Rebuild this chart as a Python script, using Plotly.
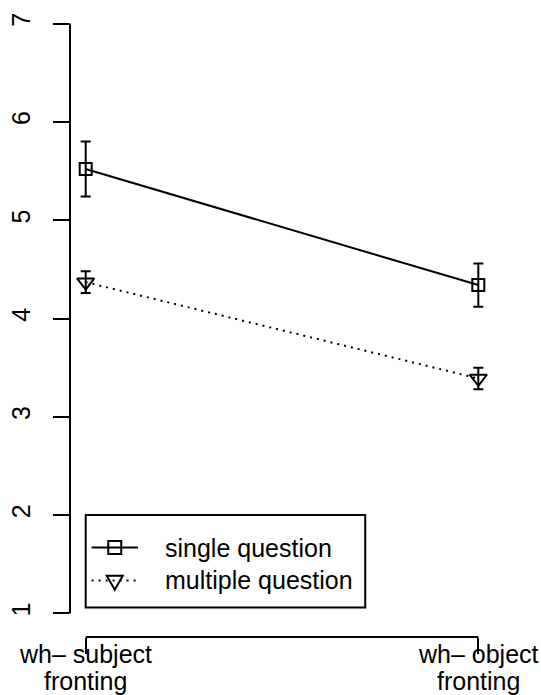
import plotly.graph_objects as go

# ---- data ----
x_pos = [1, 2]
cat_line1 = ["wh– subject", "wh– object"]
cat_line2 = ["fronting", "fronting"]
single_mean = [5.52, 4.34]
single_se = [0.28, 0.22]
multiple_mean = [4.37, 3.39]
multiple_se = [0.11, 0.11]
y_ticks = [1, 2, 3, 4, 5, 6, 7]
y_ticklabels = ["1", "2", "3", "4", "5", "6", "7"]
series_names = ["single question", "multiple question"]

FONT = "Liberation Sans, Arial, Helvetica, sans-serif"
W, H = 541, 695
ML, MR, MT, MB = 70, 47, 0, 58
XR = [0.96, 2.04]
YR = [0.76, 7.24]
pxx = (W - ML - MR) / (XR[1] - XR[0])
pxy = (H - MT - MB) / (YR[1] - YR[0])

fig = go.Figure()
fig.add_trace(go.Scatter(
    x=x_pos, y=single_mean, mode="lines+markers", name=series_names[0],
    line=dict(color="black", width=2),
    marker=dict(symbol="square-open", size=12, color="black", line=dict(width=2, color="black")),
    error_y=dict(type="data", array=single_se, color="black", thickness=2, width=5),
    showlegend=False, cliponaxis=False))
fig.add_trace(go.Scatter(
    x=x_pos, y=multiple_mean, mode="lines+markers", name=series_names[1],
    line=dict(color="black", width=2, dash="2px,5px"),
    marker=dict(symbol="triangle-down-open", size=15, color="black", line=dict(width=2, color="black")),
    error_y=dict(type="data", array=multiple_se, color="black", thickness=2, width=5),
    showlegend=False, cliponaxis=False))

shapes = []
# axis lines (R style: only span tick range)
shapes.append(dict(type="line", xref="x", yref="paper", x0=x_pos[0], x1=x_pos[-1], y0=0, y1=0,
                   line=dict(color="black", width=2)))
shapes.append(dict(type="line", xref="paper", yref="y", x0=0, x1=0, y0=y_ticks[0], y1=y_ticks[-1],
                   line=dict(color="black", width=2)))

# legend box
lx0, lx1, ly0, ly1 = 1.0, 1.712, 1.06, 2.0
shapes.append(dict(type="rect", xref="x", yref="y", x0=lx0, x1=lx1, y0=ly0, y1=ly1,
                   line=dict(color="black", width=2), fillcolor="rgba(0,0,0,0)"))
row_y = [1.67, 1.335]
seg_x0, seg_x1, mk_x, txt_x = 1.015, 1.133, 1.074, 1.196
# row 1: solid line + square
shapes.append(dict(type="line", xref="x", yref="y", x0=seg_x0, x1=seg_x1, y0=row_y[0], y1=row_y[0],
                   line=dict(color="black", width=2)))
hs = 6.5
shapes.append(dict(type="rect", xref="x", yref="y", x0=mk_x - hs / pxx, x1=mk_x + hs / pxx,
                   y0=row_y[0] - hs / pxy, y1=row_y[0] + hs / pxy,
                   line=dict(color="black", width=2), fillcolor="rgba(0,0,0,0)"))
# row 2: dotted line + triangle
shapes.append(dict(type="line", xref="x", yref="y", x0=seg_x0, x1=seg_x1, y0=row_y[1], y1=row_y[1],
                   line=dict(color="black", width=2, dash="2px,5px")))
tw, th = 8, 14
ty = row_y[1]
path = "M {a},{b} L {c},{b} L {d},{e} Z".format(
    a=mk_x - tw / pxx, b=ty + (th / 3) / pxy, c=mk_x + tw / pxx, d=mk_x, e=ty - (2 * th / 3) / pxy)
shapes.append(dict(type="path", xref="x", yref="y", path=path,
                   line=dict(color="black", width=2), fillcolor="rgba(0,0,0,0)"))

annotations = []
for yy, name in zip(row_y, series_names):
    annotations.append(dict(x=txt_x, y=yy, xref="x", yref="y", text=name, showarrow=False,
                            xanchor="left", yanchor="middle", font=dict(size=25, family=FONT, color="black")))
for xv, l1, l2 in zip(x_pos, cat_line1, cat_line2):
    annotations.append(dict(x=xv, y=0, xref="x", yref="paper", text=l1, showarrow=False,
                            xanchor="center", yanchor="middle", yshift=-17,
                            font=dict(size=25, family=FONT, color="black")))
    annotations.append(dict(x=xv, y=0, xref="x", yref="paper", text=l2, showarrow=False,
                            xanchor="center", yanchor="middle", yshift=-44,
                            font=dict(size=25, family=FONT, color="black")))

fig.update_layout(
    width=W, height=H, margin=dict(l=ML, r=MR, t=MT, b=MB, autoexpand=False),
    plot_bgcolor="white", paper_bgcolor="white",
    font=dict(family=FONT, size=25, color="black"),
    showlegend=False, shapes=shapes, annotations=annotations)
fig.update_xaxes(range=XR, tickvals=x_pos, showticklabels=False, ticks="outside", ticklen=16,
                 tickwidth=2, tickcolor="black", showgrid=False, zeroline=False, showline=False,
                 automargin=False)
fig.update_yaxes(range=YR, tickvals=y_ticks, ticktext=y_ticklabels, ticks="outside", ticklen=16,
                 tickwidth=2, tickcolor="black", tickangle=-90, showgrid=False, zeroline=False,
                 showline=False, automargin=False, ticklabelstandoff=13,
                 tickfont=dict(size=25, family=FONT, color="black"))

fig.write_html("out.html", config={"displayModeBar": False},
               post_script="document.body.style.margin='0px';document.body.style.overflow='hidden';")
